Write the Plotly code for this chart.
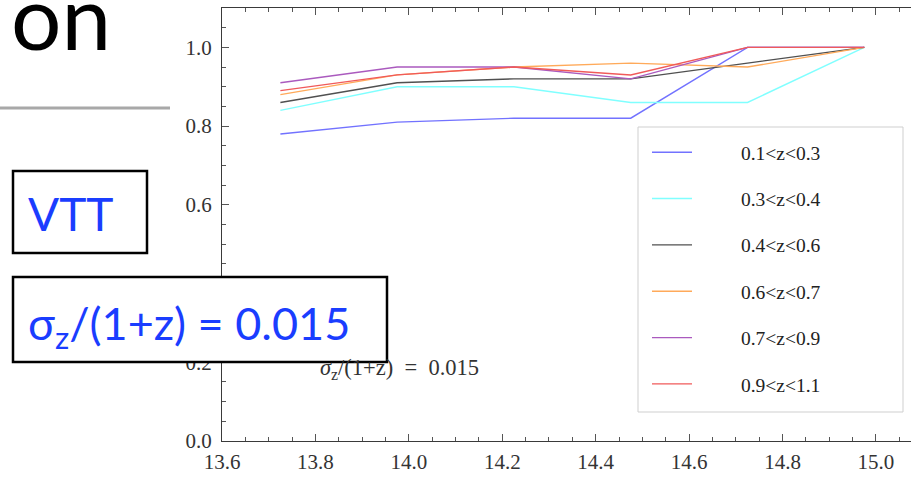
import plotly.graph_objects as go

# ---- data ----
mass = [13.725, 13.975, 14.225, 14.475, 14.725, 14.975]
labels = ["0.1<z<0.3", "0.3<z<0.4", "0.4<z<0.6", "0.6<z<0.7", "0.7<z<0.9", "0.9<z<1.1"]
v_01_03 = [0.78, 0.81, 0.82, 0.82, 1.00, 1.00]
v_03_04 = [0.84, 0.90, 0.90, 0.86, 0.86, 1.00]
v_04_06 = [0.86, 0.91, 0.92, 0.92, 0.96, 1.00]
v_06_07 = [0.88, 0.93, 0.95, 0.96, 0.95, 1.00]
v_07_09 = [0.91, 0.95, 0.95, 0.92, 1.00, 1.00]
v_09_11 = [0.89, 0.93, 0.95, 0.93, 1.00, 1.00]
series = [v_01_03, v_03_04, v_04_06, v_06_07, v_07_09, v_09_11]
colors = ["#7272ff", "#80ffff", "#505050", "#ffaa5a", "#aa5abe", "#f05a5a"]
x_ticks = [13.6, 13.8, 14.0, 14.2, 14.4, 14.6, 14.8, 15.0]
y_ticks = [0.0, 0.2, 0.4, 0.6, 0.8, 1.0]

# ---- geometry helpers (pixel -> paper) ----
PL, PR, PT, PB = 222, 911, 8, 441
def px(x):
    return (x - PL) / (PR - PL)
def py(y):
    return (PB - y) / (PB - PT)

fig = go.Figure()
for i, (vals, lab, col) in enumerate(zip(series, labels, colors)):
    fig.add_trace(go.Scatter(
        x=mass, y=vals, mode="lines", name="\u2003\u2003\u2005" + lab,
        legendgroup=f"g{i}",
        line=dict(color=col, width=1.4),
    ))

serif = "Liberation Serif, Times New Roman, serif"
sans = "Lato, Open Sans, sans-serif"
blue = "#1a3dff"

axis_common = dict(
    showline=True, linecolor="#3a3a3a", linewidth=1.2, mirror="ticks",
    ticks="inside", ticklen=7, tickwidth=1, tickcolor="#555",
    showgrid=False, zeroline=False,
    tickfont=dict(family=serif, size=21, color="#333"),
)

fig.update_layout(
    width=911, height=478,
    margin=dict(l=PL, r=0, t=PT, b=478 - PB),
    paper_bgcolor="white", plot_bgcolor="white",
    xaxis=dict(range=[13.6, 15.075], tickvals=x_ticks,
               ticktext=[f"{v:.1f}" for v in x_ticks],
               minor=dict(dtick=0.05, tick0=13.6, ticks="inside", ticklen=4, tickcolor="#555"),
               ticklabelstandoff=2,
               **axis_common),
    yaxis=dict(range=[0, 1.1], tickvals=y_ticks,
               ticktext=[f"{v:.1f}" for v in y_ticks],
               minor=dict(dtick=0.05, tick0=0, ticks="inside", ticklen=4, tickcolor="#555"),
               ticklabelstandoff=5,
               **{**axis_common, "mirror": False}),
    legend=dict(
        x=px(647), y=py(133), xanchor="left", yanchor="top",
        bgcolor="rgba(0,0,0,0)", borderwidth=0,
        font=dict(family=serif, size=19.5, color="#222"),
        tracegroupgap=18, itemwidth=40,
    ),
    showlegend=True,
)

shapes = [
    dict(type="rect", xref="paper", yref="paper", x0=px(638), x1=px(903), y0=py(412), y1=py(127),
         line=dict(color="#cfcfcf", width=1), fillcolor="white", layer="below"),
    dict(type="line", xref="paper", yref="paper", x0=px(0), x1=px(170), y0=py(108), y1=py(108),
         line=dict(color="#a8a8a8", width=3), layer="above"),
    dict(type="rect", xref="paper", yref="paper", x0=px(13), x1=px(147), y0=py(253), y1=py(171),
         line=dict(color="black", width=2.5), fillcolor="white", layer="above"),
    dict(type="rect", xref="paper", yref="paper", x0=px(13), x1=px(387), y0=py(362), y1=py(277),
         line=dict(color="black", width=2.5), fillcolor="white", layer="above"),
]
fig.update_layout(shapes=shapes)

annotations = [
    dict(text="on", xref="paper", yref="paper", x=px(113), y=py(16), xanchor="right", yanchor="middle",
         showarrow=False, font=dict(family=sans, size=89, color="black")),
    dict(text="VTT", xref="paper", yref="paper", x=px(70), y=py(214), xanchor="center", yanchor="middle",
         showarrow=False, font=dict(family=sans, size=46, color=blue)),
    dict(text="σ<sub>z</sub>/(1+z) = 0.015", xref="paper", yref="paper", x=px(26), y=py(326),
         xanchor="left", yanchor="middle",
         showarrow=False, font=dict(family=sans, size=45, color=blue)),
    dict(text="<i>σ</i><sub>z</sub>/(1+z)\u2002=\u20020.015", xref="x", yref="y", x=13.98, y=0.183,
         xanchor="center", yanchor="middle",
         showarrow=False, font=dict(family=serif, size=22.5, color="#333")),
]
fig.update_layout(annotations=annotations)

fig.write_html("out.html")
